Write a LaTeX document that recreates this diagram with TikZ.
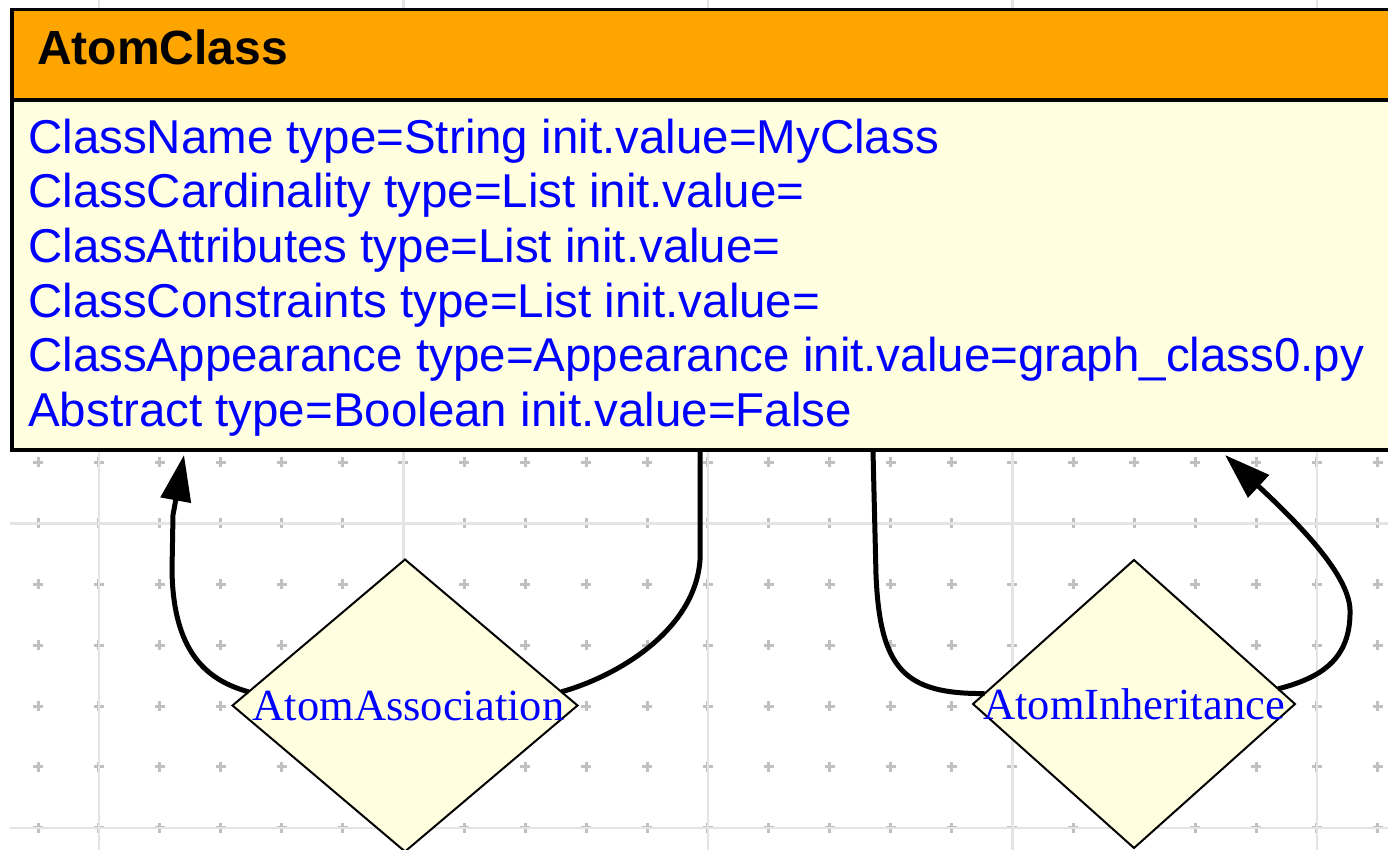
\documentclass[tikz,border=0pt]{standalone}
\usepackage{fontspec}
\setmainfont{Liberation Serif}
\newfontfamily\arialfont{Liberation Sans}
\usepackage[]{tikz}
\usetikzlibrary{arrows.meta}
\usetikzlibrary{shapes.geometric}
\definecolor{clsorange}{RGB}{255,165,0}
\definecolor{clsyellow}{RGB}{255,255,224}
\definecolor{gridline}{RGB}{228,228,228}
\definecolor{gridmark}{RGB}{192,192,192}
\tikzset{clsbox/.style = {draw, line width=3.5pt, anchor=north west, inner sep=0, outer sep=0, minimum width=1420pt}}
\tikzset{attrtext/.style = {anchor=base west, inner sep=0, text=blue, font=\arialfont\fontsize{47.5}{54.6}\selectfont}}
\tikzset{reldiamond/.style = {diamond, draw, line width=2pt, fill=clsyellow, inner sep=0, outer sep=0, text=blue, font=\fontsize{44.5}{50}\selectfont}}
\tikzset{conn/.style = {line width=5pt}}
\tikzset{connarrow/.style = {conn, -{Triangle[length=46pt, width=30pt]}}}
\tikzset{gridcross/.style = {gridmark, line width=3pt}}

\begin{document}
\begin{tikzpicture}[x=1pt, y=-1pt]
        \useasboundingbox (0,0) rectangle (1388,850);
        \clip (0,0) rectangle (1388,850);
        % grid
        \foreach \i in {0,...,22} {
            \foreach \j in {-1,...,5} {
                \draw[gridcross] (38+60.9*\i-5,523.3+60.9*\j) -- ++(10,0) (38+60.9*\i,523.3+60.9*\j-5) -- ++(0,10);
            }
        }
        \foreach \i in {1,6,...,21}
            \draw[gridline, line width=2.5pt] (38+60.9*\i,0) -- (38+60.9*\i,850);
        \foreach \j in {-5,0,5}
            \draw[gridline, line width=2.5pt] (10,523.3+60.9*\j) -- (1388,523.3+60.9*\j);
        % class box
        \node[clsbox, fill=clsorange, minimum height=90.5pt] (head) at (12,9.5) {};
        \node[clsbox, fill=clsyellow, minimum height=350pt] (body) at (12,100) {};
        \node[anchor=base west, inner sep=0, font=\arialfont\bfseries\fontsize{48}{56}\selectfont] (title) at (37,64.5) {AtomClass};
        \foreach \txt [count=\i] in {ClassName type=String init.value=MyClass,
                ClassCardinality type=List init.value=,
                ClassAttributes type=List init.value=,
                ClassConstraints type=List init.value=,
                ClassAppearance type=Appearance init.value=graph\_class0.py,
                Abstract type=Boolean init.value=False}
            \node[attrtext] (attr\i) at (28,153.3+54.6*\i-54.6) {\txt};
        % relations
        \node[reldiamond, minimum width=345pt, minimum height=292pt] (assoc) at (405,705.5) {\makebox[0pt]{\hspace{7pt}AtomAssociation}};
        \node[reldiamond, minimum width=322pt, minimum height=288pt] (inher) at (1134,704) {\makebox[0pt]{AtomInheritance}};
        \coordinate (tipA) at (184,455);
        \coordinate (endB) at (700,451);
        \coordinate (endC) at (873,451);
        \coordinate (tipD) at (1225,455);
        \draw[connarrow] (assoc.175) .. controls (205,680) and (173,650) .. (172,570) -- (173,515) -- (tipA);
        \draw[conn] (assoc.5) .. controls (618,676) and (695,630) .. (700,560) -- (endB);
        \draw[conn] (inher.176) .. controls (905,694) and (880,670) .. (876,575) -- (endC);
        \draw[connarrow] (inher.6) .. controls (1320,678) and (1351,660) .. (1350,610) .. controls (1349,575) and (1300,525) .. (tipD);
    \end{tikzpicture}
\end{document}
